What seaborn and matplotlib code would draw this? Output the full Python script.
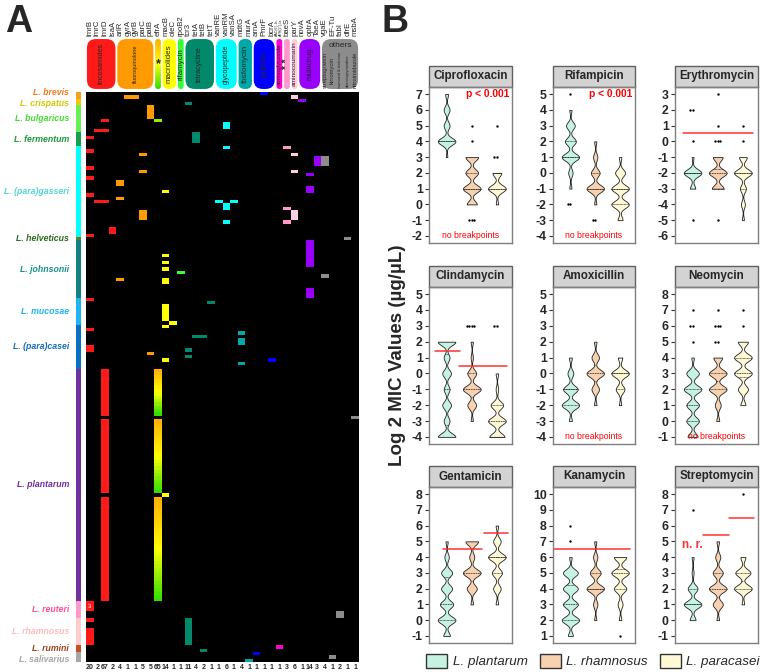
import numpy as np
import pandas as pd
import matplotlib
matplotlib.use("Agg")
import matplotlib.pyplot as plt
import seaborn as sns
from matplotlib.colors import ListedColormap, LinearSegmentedColormap
from matplotlib.patches import FancyBboxPatch, Rectangle, Patch

# ======================= Panel A data =======================
genes = ['lmrB', 'lmrC', 'lmrD', 'lsaA', 'arlR', 'gyrA', 'gyrB', 'parC', 'patB', 'efrA',
         'macB', 'oleC', 'rpoB2', 'tcr3', 'tetA', 'tetB', 'tetT', 'vanRE', 'vanRM', 'vanSA',
         'mdtG', 'murA', 'arnA', 'PmrF', 'bcrA', "AAC(6')-Ie-\nAPH(2'')-Ia", 'baeS', 'parY',
         'novA', 'optrA', 'TaeA', 'vgaE', 'EF-Tu', 'fabI', 'dfrE', 'msbA']
gene_counts = [20, 2, 67, 2, 4, 1, 1, 5, 5, 65, 14, 1, 1, 11, 4, 2, 1, 1, 6, 1, 4, 1,
               1, 1, 1, 1, 3, 6, 1, 14, 3, 4, 1, 2, 1, 1]
group_names = ['lincosamides', 'fluoroquinolone', '*', 'macrolides', 'rifamycin', 'tetracycline',
               'glycopeptide', 'fosfomycin', 'peptide', 'aminoglycoside', '* *', 'aminocoumarin',
               'multidrug', 'others']
group_sizes = [4, 5, 1, 2, 1, 4, 3, 2, 3, 1, 1, 1, 3, 5]
group_colors = ['#FF1A1A', '#FF9A00', '#C8E600', '#FFFF00', '#33FF33', '#00896A', '#00FFFF',
                '#00A8A8', '#0000FF', '#FF00CC', '#FF99CC', '#FFCCE0', '#9900FF', '#8C8C8C']
others_labels = ['streptogramin', 'kirromycin', 'isoniazid & triclosan', 'diaminopyrimidine',
                 'nitroimidazole']

species_A = ['L. brevis', 'L. crispatus', 'L. bulgaricus', 'L. fermentum', 'L. (para)gasseri',
             'L. helveticus', 'L. johnsonii', 'L. mucosae', 'L. (para)casei', 'L. plantarum',
             'L. reuteri', 'L. rhamnosus', 'L. rumini', 'L. salivarius']
species_rows = [2, 2, 8, 4, 27, 1, 17, 8, 13, 69, 5, 8, 2, 3]
species_band = ['#F7A01E', '#F2C800', '#66EE55', '#15A050', '#00FFFF', '#6B7A1E', '#128080',
                '#1EB4F0', '#0A70C0', '#7030A0', '#FF99CC', '#FFCCCC', '#C8501E', '#A6A6A6']
species_text = ['#F47B20', '#D4C800', '#44DD33', '#1A9A40', '#55D5D5', '#2E6B1E', '#179090',
                '#1EB4F0', '#1570C0', '#7030A0', '#FF4D94', '#FFBBBB', '#A0401A', '#A6A6A6']

# (gene index name, first strain row, number of consecutive strains)
AAC = "AAC(6')-Ie-\nAPH(2'')-Ia"
cells = [('PmrF', 0, 1), ('gyrA', 1, 1), ('gyrB', 1, 1), ('parY', 1, 1), ('novA', 2, 1),
         ('tcr3', 3, 1), ('patB', 4, 4), ('lmrD', 8, 1), ('efrA', 8, 1), ('vanRM', 9, 2),
         ('lmrC', 11, 1), ('lmrD', 11, 1), ('tetA', 12, 3), ('lmrB', 13, 1),
         ('vanRM', 16, 1), ('baeS', 16, 1), ('lmrB', 17, 1), ('parC', 18, 1), ('parY', 18, 1),
         ('TaeA', 19, 3), ('vgaE', 19, 3), ('lmrB', 22, 1), ('parC', 23, 1), ('parY', 23, 1),
         ('optrA', 24, 1), ('lmrB', 25, 1), ('arlR', 26, 2), ('optrA', 28, 2), ('macB', 29, 1),
         ('lmrB', 30, 1), ('arlR', 31, 1), ('lmrC', 32, 1), ('lmrD', 32, 1), ('vanRE', 32, 1),
         ('vanSA', 32, 1), ('vanRM', 33, 2), ('baeS', 34, 1), ('parC', 35, 3), ('parY', 35, 3),
         ('baeS', 38, 1), ('vanRM', 38, 1), ('lsaA', 40, 2), ('lmrB', 42, 1), ('dfrE', 43, 1),
         ('optrA', 44, 8), ('macB', 48, 1), ('macB', 50, 1), ('macB', 52, 1), ('rpoB2', 53, 1),
         ('vgaE', 54, 1), ('arlR', 55, 1), ('macB', 55, 2), ('optrA', 58, 3), ('lmrB', 61, 1),
         ('tetT', 62, 1), ('macB', 63, 5), ('oleC', 68, 1), ('macB', 69, 1), ('lmrB', 70, 1),
         ('mdtG', 71, 1), ('tetA', 72, 1), ('tetB', 72, 1), ('mdtG', 73, 2), ('lmrB', 75, 2),
         ('tcr3', 76, 1), ('patB', 77, 1), ('tcr3', 78, 1), ('macB', 79, 1), ('bcrA', 79, 1),
         ('mdtG', 80, 1), ('lmrD', 82, 14), ('efrA', 82, 14), ('msbA', 96, 1),
         ('lmrD', 97, 22), ('efrA', 97, 22), ('macB', 119, 1), ('lmrD', 120, 31),
         ('efrA', 120, 31), ('lmrB', 151, 3), ('fabI', 154, 2), ('lmrB', 156, 1),
         ('tcr3', 156, 8), ('lmrB', 159, 5), (AAC, 164, 1), ('tetB', 165, 1),
         ('arnA', 166, 1), ('EF-Tu', 167, 1), ('murA', 168, 1)]

# ======================= Panel B data =======================
bsp = ['L. plantarum', 'L. rhamnosus', 'L. paracasei']
bcol = ['#C5F2E1', '#F8D2B0', '#FFFAD5']
antibiotics = ['Ciprofloxacin', 'Rifampicin', 'Erythromycin', 'Clindamycin', 'Amoxicillin',
               'Neomycin', 'Gentamicin', 'Kanamycin', 'Streptomycin']
y_ranges = [(-2, 7), (-4, 5), (-6, 3), (-4, 5), (-4, 5), (-1, 8), (-1, 8), (1, 10), (-1, 8)]

# log2 MIC value -> number of strains (violin body), and outliers
cipro_mic = [{3: 1, 4: 12, 5: 4, 6: 4, 7: 2}, {0: 4, 1: 7, 2: 5, 3: 5}, {0: 1, 1: 8, 2: 4}]
cipro_out = [{}, {5: 1, 4: 1, -1: 3}, {5: 1, 3: 2}]
rifa_mic = [{-1: 1, 0: 2, 1: 8, 2: 5, 3: 4, 4: 1}, {-2: 1, -1: 8, 0: 4, 1: 2, 2: 1},
            {-3: 2, -2: 7, -1: 7, 0: 4, 1: 1}]
rifa_out = [{5: 1, -2: 2}, {-3: 2}, {}]
ery_mic = [{-3: 3, -2: 10, -1: 1}, {-3: 6, -2: 9, -1: 5}, {-5: 1, -4: 2, -3: 3, -2: 9, -1: 4}]
ery_out = [{2: 2, 0: 1, -5: 1}, {3: 1, 1: 1, 0: 3, -5: 1}, {1: 1, 0: 1}]
clin_mic = [{-4: 6, -3: 2, -2: 3, -1: 2, 0: 3, 1: 2, 2: 6}, {-3: 1, -2: 4, -1: 8, 0: 4, 1: 1, 2: 1},
            {-4: 6, -3: 7, -2: 5, -1: 1, 0: 1}]
clin_out = [{}, {3: 4}, {3: 2}]
amox_mic = [{-3: 1, -2: 6, -1: 5, 0: 2, 1: 1}, {-2: 1, -1: 3, 0: 7, 1: 3, 2: 1},
            {-2: 1, -1: 4, 0: 8, 1: 2}]
amox_out = [{}, {}, {}]
neo_mic = [{-1: 4, 0: 5, 1: 5, 2: 7, 3: 5, 4: 1}, {0: 1, 1: 2, 2: 6, 3: 6, 4: 3},
           {1: 2, 2: 4, 3: 7, 4: 7, 5: 4}]
neo_out = [{7: 1, 6: 2, 5: 1}, {7: 1, 6: 3, 5: 2}, {7: 1, 6: 1}]
gent_mic = [{-1: 3, 0: 8, 1: 6, 2: 5, 3: 5, 4: 2, 5: 1}, {1: 1, 2: 4, 3: 7, 4: 2, 5: 5},
            {1: 1, 2: 3, 3: 4, 4: 7, 5: 3, 6: 1}]
gent_out = [{}, {}, {}]
kana_mic = [{1: 2, 2: 7, 3: 6, 4: 6, 5: 6, 6: 1}, {2: 1, 3: 2, 4: 8, 5: 5, 6: 2, 7: 1},
            {2: 1, 3: 2, 4: 5, 5: 7, 6: 5}]
kana_out = [{7: 1, 8: 1}, {}, {1: 1}]
strep_mic = [{0: 3, 1: 9, 2: 5, 3: 1, 4: 1}, {0: 1, 1: 4, 2: 7, 3: 4, 4: 2, 5: 1},
             {1: 1, 2: 7, 3: 6, 4: 2}]
strep_out = [{7: 1}, {}, {8: 1}]
mic_data = [cipro_mic, rifa_mic, ery_mic, clin_mic, amox_mic, neo_mic, gent_mic, kana_mic, strep_mic]
out_data = [cipro_out, rifa_out, ery_out, clin_out, amox_out, neo_out, gent_out, kana_out, strep_out]

# breakpoints: (x from, x to, log2 value)
breakpoints = {'Erythromycin': [(-0.4, 2.4, 0.5)],
               'Clindamycin': [(-0.45, 0.55, 1.4), (0.5, 2.4, 0.45)],
               'Gentamicin': [(-0.15, 1.4, 4.5), (1.5, 2.45, 5.5)],
               'Kanamycin': [(-0.7, 2.4, 6.5)],
               'Streptomycin': [(0.4, 1.45, 5.4), (1.45, 2.45, 6.5)]}
p_text = {'Ciprofloxacin': 'p < 0.001', 'Rifampicin': 'p < 0.001'}
no_bp = ['Ciprofloxacin', 'Rifampicin', 'Amoxicillin', 'Neomycin']

# ======================= Figure =======================
sns.set_theme(style='white')
plt.rcParams['font.family'] = ['Liberation Sans', 'DejaVu Sans']

W, H = 760, 672
fig = plt.figure(figsize=(7.6, 6.72), dpi=100)


def fr(x0, y0, x1, y1):
    return [x0 / W, 1 - y1 / H, (x1 - x0) / W, (y1 - y0) / H]


# ---------- Panel A heatmap ----------
n_rows = sum(species_rows)
gene_group = []
for gi, n in enumerate(group_sizes):
    gene_group += [gi] * n
mat = np.zeros((n_rows, len(genes)))
grad = np.full((n_rows, len(genes)), np.nan)
for g, s, n in cells:
    c = genes.index(g)
    if g == 'efrA':
        grad[s:s + n, c] = np.linspace(0, 1, n) if n > 1 else 0.75
    else:
        mat[s:s + n, c] = gene_group[c] + 1

axA = fig.add_axes(fr(86, 92, 359, 662))
cmapA = ListedColormap(['black'] + group_colors)
sns.heatmap(mat, ax=axA, cmap=cmapA, vmin=-0.5, vmax=len(group_colors) + 0.5, cbar=False,
            xticklabels=gene_counts, yticklabels=False)
gcmap = LinearSegmentedColormap.from_list('efra', ['#FFB000', '#FFFF00', '#33DD00'])
sns.heatmap(grad, ax=axA, cmap=gcmap, vmin=0, vmax=1, mask=np.isnan(grad), cbar=False,
            xticklabels=gene_counts, yticklabels=False)
axA.tick_params(axis='x', length=0, pad=1.5, labelsize=5.0, rotation=0)
for t in axA.get_xticklabels():
    t.set_fontweight('bold')
axA.text(0.5, 152.5, '3', color='white', fontsize=4, ha='center', va='center')

# species colour bar
spec_codes = np.repeat(np.arange(len(species_A)), species_rows)[:, None]
axS = fig.add_axes(fr(76, 92, 81, 662))
sns.heatmap(spec_codes, ax=axS, cmap=ListedColormap(species_band), vmin=-0.5,
            vmax=len(species_A) - 0.5, cbar=False, xticklabels=False, yticklabels=False)
row_h = 570 / n_rows
label_shift = {'L. brevis': -2.5, 'L. crispatus': 1.5, 'L. salivarius': 2.5}
start = 0
for sp, n, c in zip(species_A, species_rows, species_text):
    yc = 92 + (start + n / 2) * row_h + label_shift.get(sp, 0)
    fig.text(69 / W, 1 - yc / H, sp, ha='right', va='center', color=c, fontsize=6.3,
             fontstyle='italic', fontweight='bold')
    start += n

# header with antibiotic classes
axH = fig.add_axes(fr(86, 38, 359, 90))
axH.set_xlim(0, 36)
axH.set_ylim(0, 1)
axH.axis('off')
asp = (273 / 36) / 52
x = 0
for name, n, col in zip(group_names, group_sizes, group_colors):
    w = n - 0.24
    rs = min(1.2, w * 0.45)
    fc = 'none' if name == '*' else col
    box = FancyBboxPatch((x + 0.12, 0.02), w, 0.96,
                         boxstyle=f"round,pad=0,rounding_size={rs}",
                         mutation_aspect=asp, fc=fc, ec='none')
    axH.add_patch(box)
    if name == '*':
        im = axH.imshow(np.linspace(0, 1, 100)[:, None], cmap=gcmap, aspect='auto',
                        extent=(x + 0.12, x + 0.12 + w, 0.02, 0.98), origin='upper')
        im.set_clip_path(box)
        axH.text(x + n / 2, 0.5, '*', ha='center', va='center', fontsize=9, fontweight='bold')
    elif name == '* *':
        axH.text(x + n / 2, 0.5, '* *', ha='center', va='center', fontsize=7, rotation=90,
                 fontweight='bold')
    elif name == 'others':
        axH.text(x + n / 2, 0.85, 'others', ha='center', va='center', fontsize=6)
        for k, lab in enumerate(others_labels):
            fs = 4.2 if len(lab) < 15 else 3.0
            axH.text(x + k + 0.5, 0.38, lab, ha='center', va='center', rotation=90, fontsize=fs)
    else:
        fs = min(5.8, 44 / (len(name) * 0.52) / 1.389)
        axH.text(x + n / 2, 0.5, name, ha='center', va='center', rotation=90, fontsize=fs)
    x += n
axH.set_xlim(0, 36)
axH.set_ylim(0, 1)
for i, g in enumerate(genes):
    fs = 2.6 if len(g) > 8 else 5.6
    axH.text(i + 0.5, 1.04, g, rotation=90, ha='center', va='bottom', fontsize=fs,
             clip_on=False, linespacing=1.0)

fig.text(5 / W, 1 - 22 / H, 'A', fontsize=27, fontweight='bold', va='center', ha='left')
fig.text(382 / W, 1 - 22 / H, 'B', fontsize=27, fontweight='bold', va='center', ha='left')

# ---------- Panel B violins ----------
col_x = [(429, 512), (553, 635), (675, 758)]
row_y = [(87, 243), (287, 444), (487, 643)]
for k, name in enumerate(antibiotics):
    r, c = divmod(k, 3)
    x0, x1 = col_x[c]
    y0, y1 = row_y[r]
    ax = fig.add_axes(fr(x0, y0, x1, y1))
    for i, sp in enumerate(bsp):
        d = mic_data[k][i]
        vals = np.repeat(list(d.keys()), list(d.values())).astype(float)
        dfv = pd.DataFrame({'sp': sp, 'v': vals})
        bw = 0.22 / np.std(vals)
        sns.violinplot(data=dfv, x='sp', y='v', order=bsp, color=bcol[i], saturation=1,
                       cut=0, inner='quart', bw_method=bw, density_norm='width', width=0.7,
                       linewidth=0.6, linecolor='#222222', inner_kws=dict(linewidth=0.5),
                       ax=ax)
    orows = [(sp, float(v)) for i, sp in enumerate(bsp)
             for v, cnt in out_data[k][i].items() for _ in range(cnt)]
    if orows:
        dfo = pd.DataFrame(orows, columns=['sp', 'v'])
        sns.swarmplot(data=dfo, x='sp', y='v', order=bsp, color='black', size=1.7, ax=ax)
    lo, hi = y_ranges[k]
    ax.set_xlim(-0.7, 2.6)
    ax.set_ylim(lo - 0.45, hi + 0.45)
    ax.set_xticks([])
    ax.set_xlabel('')
    ax.set_ylabel('')
    ax.set_yticks(range(lo, hi + 1))
    ax.set_yticklabels([str(v) for v in range(lo, hi + 1)], fontweight='bold')
    ax.tick_params(axis='y', left=True, length=3, width=0.8, pad=1.5, labelsize=8.8,
                   color='#333333')
    for s in ax.spines.values():
        s.set_visible(True)
        s.set_color('#7F7F7F')
        s.set_linewidth(1.0)
    hfrac = 21 / (y1 - y0)
    ax.add_patch(Rectangle((0, 1), 1, hfrac, transform=ax.transAxes, facecolor='#D3D3D3',
                           edgecolor='#606060', lw=1.0, clip_on=False))
    ax.text(0.5, 1 + hfrac / 2, name, transform=ax.transAxes, ha='center', va='center',
            fontsize=8.4, fontweight='bold')
    for xa, xb, yv in breakpoints.get(name, []):
        ax.plot([xa, xb], [yv, yv], color='#FF3030', lw=1.1)
    if name in p_text:
        ax.text(1.62, hi, p_text[name], color='#FF0000', fontsize=7.4, fontweight='bold',
                ha='center', va='center')
    if name in no_bp:
        ax.text(0.95, lo, 'no breakpoints', color='#FF0000', fontsize=6.2, ha='center',
                va='center')
    if name == 'Streptomycin':
        ax.text(0.0, 4.75, 'n. r.', color='#FF3030', fontsize=8.5, fontweight='bold',
                ha='center', va='center')

fig.text(398 / W, 1 - 355 / H, 'Log 2 MIC Values (µg/µL)', rotation=90, ha='center',
         va='center', fontsize=13.5, fontweight='bold')

handles = [Patch(facecolor=c, edgecolor='#333333', label=s) for s, c in zip(bsp, bcol)]
fig.legend(handles=handles, loc='center', bbox_to_anchor=(593 / W, 1 - 661 / H), ncol=3,
           frameon=False, prop={'style': 'italic', 'size': 9.6}, handlelength=1.6,
           handleheight=1.2, columnspacing=0.9, handletextpad=0.4, borderpad=0.1)

fig.savefig('out.png', dpi=100)
